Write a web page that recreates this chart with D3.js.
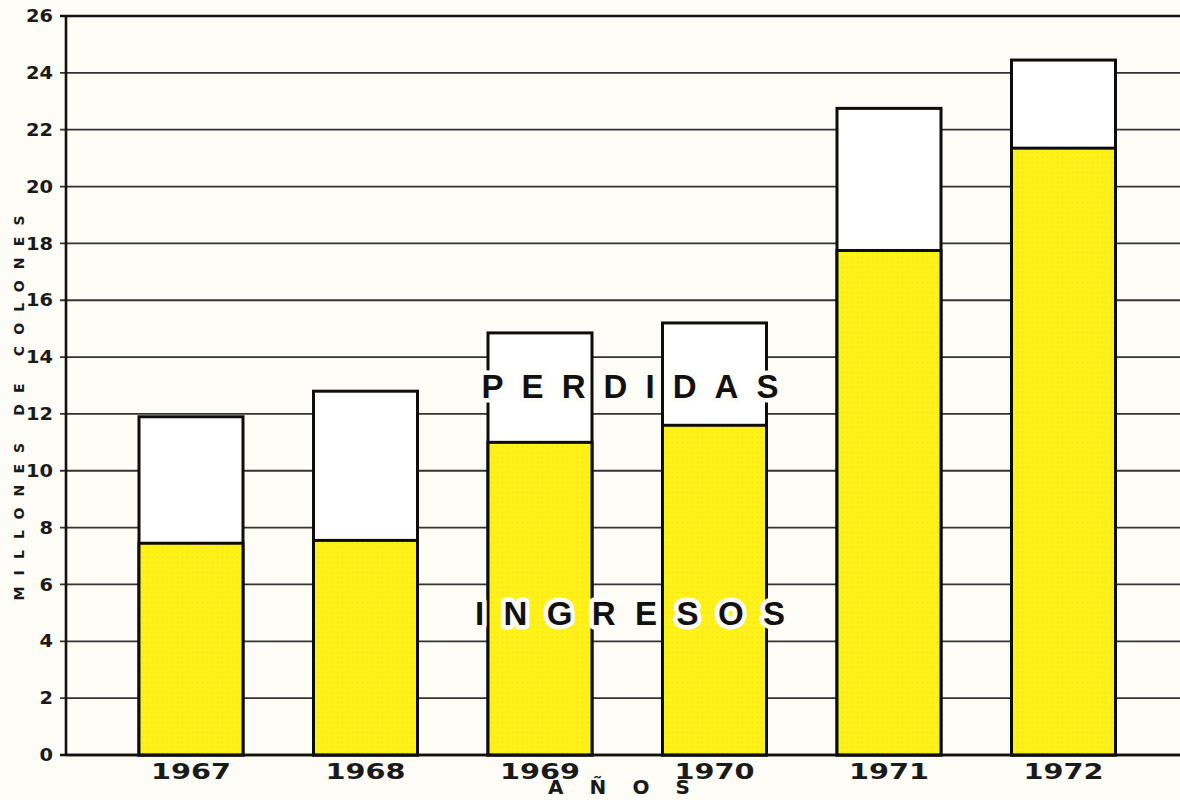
<!DOCTYPE html>
<html><head><meta charset="utf-8">
<script src="https://cdn.jsdelivr.net/npm/d3@7"></script>
<style>body{margin:0;background:#fdfcf7;}svg{display:block;}</style>
</head><body>
<script>
const years = ["1967","1968","1969","1970","1971","1972"];
const ingresos = [7.45, 7.55, 11.0, 11.6, 17.75, 21.35];
const totales = [11.9, 12.8, 14.85, 15.2, 22.75, 24.45];
const yTicks = [0,2,4,6,8,10,12,14,16,18,20,22,24,26];

const W = 1180, H = 800;
const svg = d3.select("body").append("svg").attr("width", W).attr("height", H);
svg.append("rect").attr("width", W).attr("height", H).attr("fill", "#fdfcf7");

const defs = svg.append("defs");
const pat = defs.append("pattern").attr("id","dots").attr("patternUnits","userSpaceOnUse")
  .attr("width",5).attr("height",5);
pat.append("rect").attr("width",5).attr("height",5).attr("fill","#fff21c");
pat.append("circle").attr("cx",2.5).attr("cy",2.5).attr("r",1).attr("fill","#fbe900");

const axisX = 66, right = 1180;
const y = d3.scaleLinear().domain([0,26]).range([755,16]);
const x = d3.scaleBand().domain(years).range([103.75,1150.75]).paddingInner(0.404).paddingOuter(0.202);

// grid lines
svg.append("g").selectAll("line").data(yTicks).join("line")
  .attr("x1", axisX-6).attr("x2", right)
  .attr("y1", d=>y(d)).attr("y2", d=>y(d))
  .attr("stroke", d=> d===0||d===26 ? "#111" : "#333")
  .attr("stroke-width", d=> d===0||d===26 ? 2.6 : 1.8);

// y axis line
svg.append("line").attr("x1",axisX).attr("x2",axisX).attr("y1",y(26)-1).attr("y2",y(0)+1)
  .attr("stroke","#111").attr("stroke-width",2.6);

// tick labels
svg.append("g").selectAll("text").data(yTicks).join("text")
  .attr("x", 53).attr("y", d=>y(d)).attr("dy","0.36em")
  .attr("text-anchor","end")
  .attr("font-family","DejaVu Sans").attr("font-weight","bold").attr("font-size",17)
  .attr("textLength", d=>String(d).length*13.5).attr("lengthAdjust","spacingAndGlyphs")
  .attr("fill","#1a1a1a").text(d=>d);

// bars
const g = svg.append("g");
years.forEach((yr,i)=>{
  g.append("rect").attr("x",x(yr)).attr("width",x.bandwidth())
    .attr("y",y(totales[i])).attr("height",y(0)-y(totales[i]))
    .attr("fill","#ffffff").attr("stroke","#0d0d0d").attr("stroke-width",3);
  g.append("rect").attr("x",x(yr)).attr("width",x.bandwidth())
    .attr("y",y(ingresos[i])).attr("height",y(0)-y(ingresos[i]))
    .attr("fill","url(#dots)").attr("stroke","#0d0d0d").attr("stroke-width",3);
});
// redraw baseline on top
svg.append("line").attr("x1",axisX).attr("x2",right).attr("y1",y(0)).attr("y2",y(0))
  .attr("stroke","#111").attr("stroke-width",2.6);

// x labels
svg.append("g").selectAll("text").data(years).join("text")
  .attr("x", d=>x(d)+x.bandwidth()/2).attr("y", 779)
  .attr("text-anchor","middle")
  .attr("font-family","DejaVu Sans").attr("font-weight","bold").attr("font-size",22)
  .attr("textLength",80).attr("lengthAdjust","spacingAndGlyphs")
  .attr("fill","#1a1a1a").text(d=>d);

// axis titles
svg.append("text").attr("x", 619).attr("y", 794).attr("text-anchor","middle")
  .attr("font-family","DejaVu Sans").attr("font-weight","bold").attr("font-size",20)
  .attr("textLength",142).attr("lengthAdjust","spacing")
  .attr("fill","#1a1a1a").text("AÑOS");

svg.append("text").attr("transform","translate(24,408) rotate(-90)")
  .attr("text-anchor","middle")
  .attr("font-family","DejaVu Sans").attr("font-weight","bold").attr("font-size",14)
  .attr("textLength",385).attr("lengthAdjust","spacing")
  .attr("fill","#1a1a1a").text("MILLONES DE COLONES");

// series labels with halo
function label(txt, cx, base, len){
  svg.append("text").attr("x",cx).attr("y",base).attr("text-anchor","middle")
    .attr("font-family","Liberation Sans").attr("font-weight","bold").attr("font-size",33)
    .attr("textLength",len).attr("lengthAdjust","spacing")
    .attr("fill","#111").attr("stroke","#fdfcf7").attr("stroke-width",9)
    .attr("stroke-linejoin","round").attr("paint-order","stroke").text(txt);
}
label("PERDIDAS", 630, 398, 297);
label("INGRESOS", 630, 625, 310);
</script>
</body></html>
